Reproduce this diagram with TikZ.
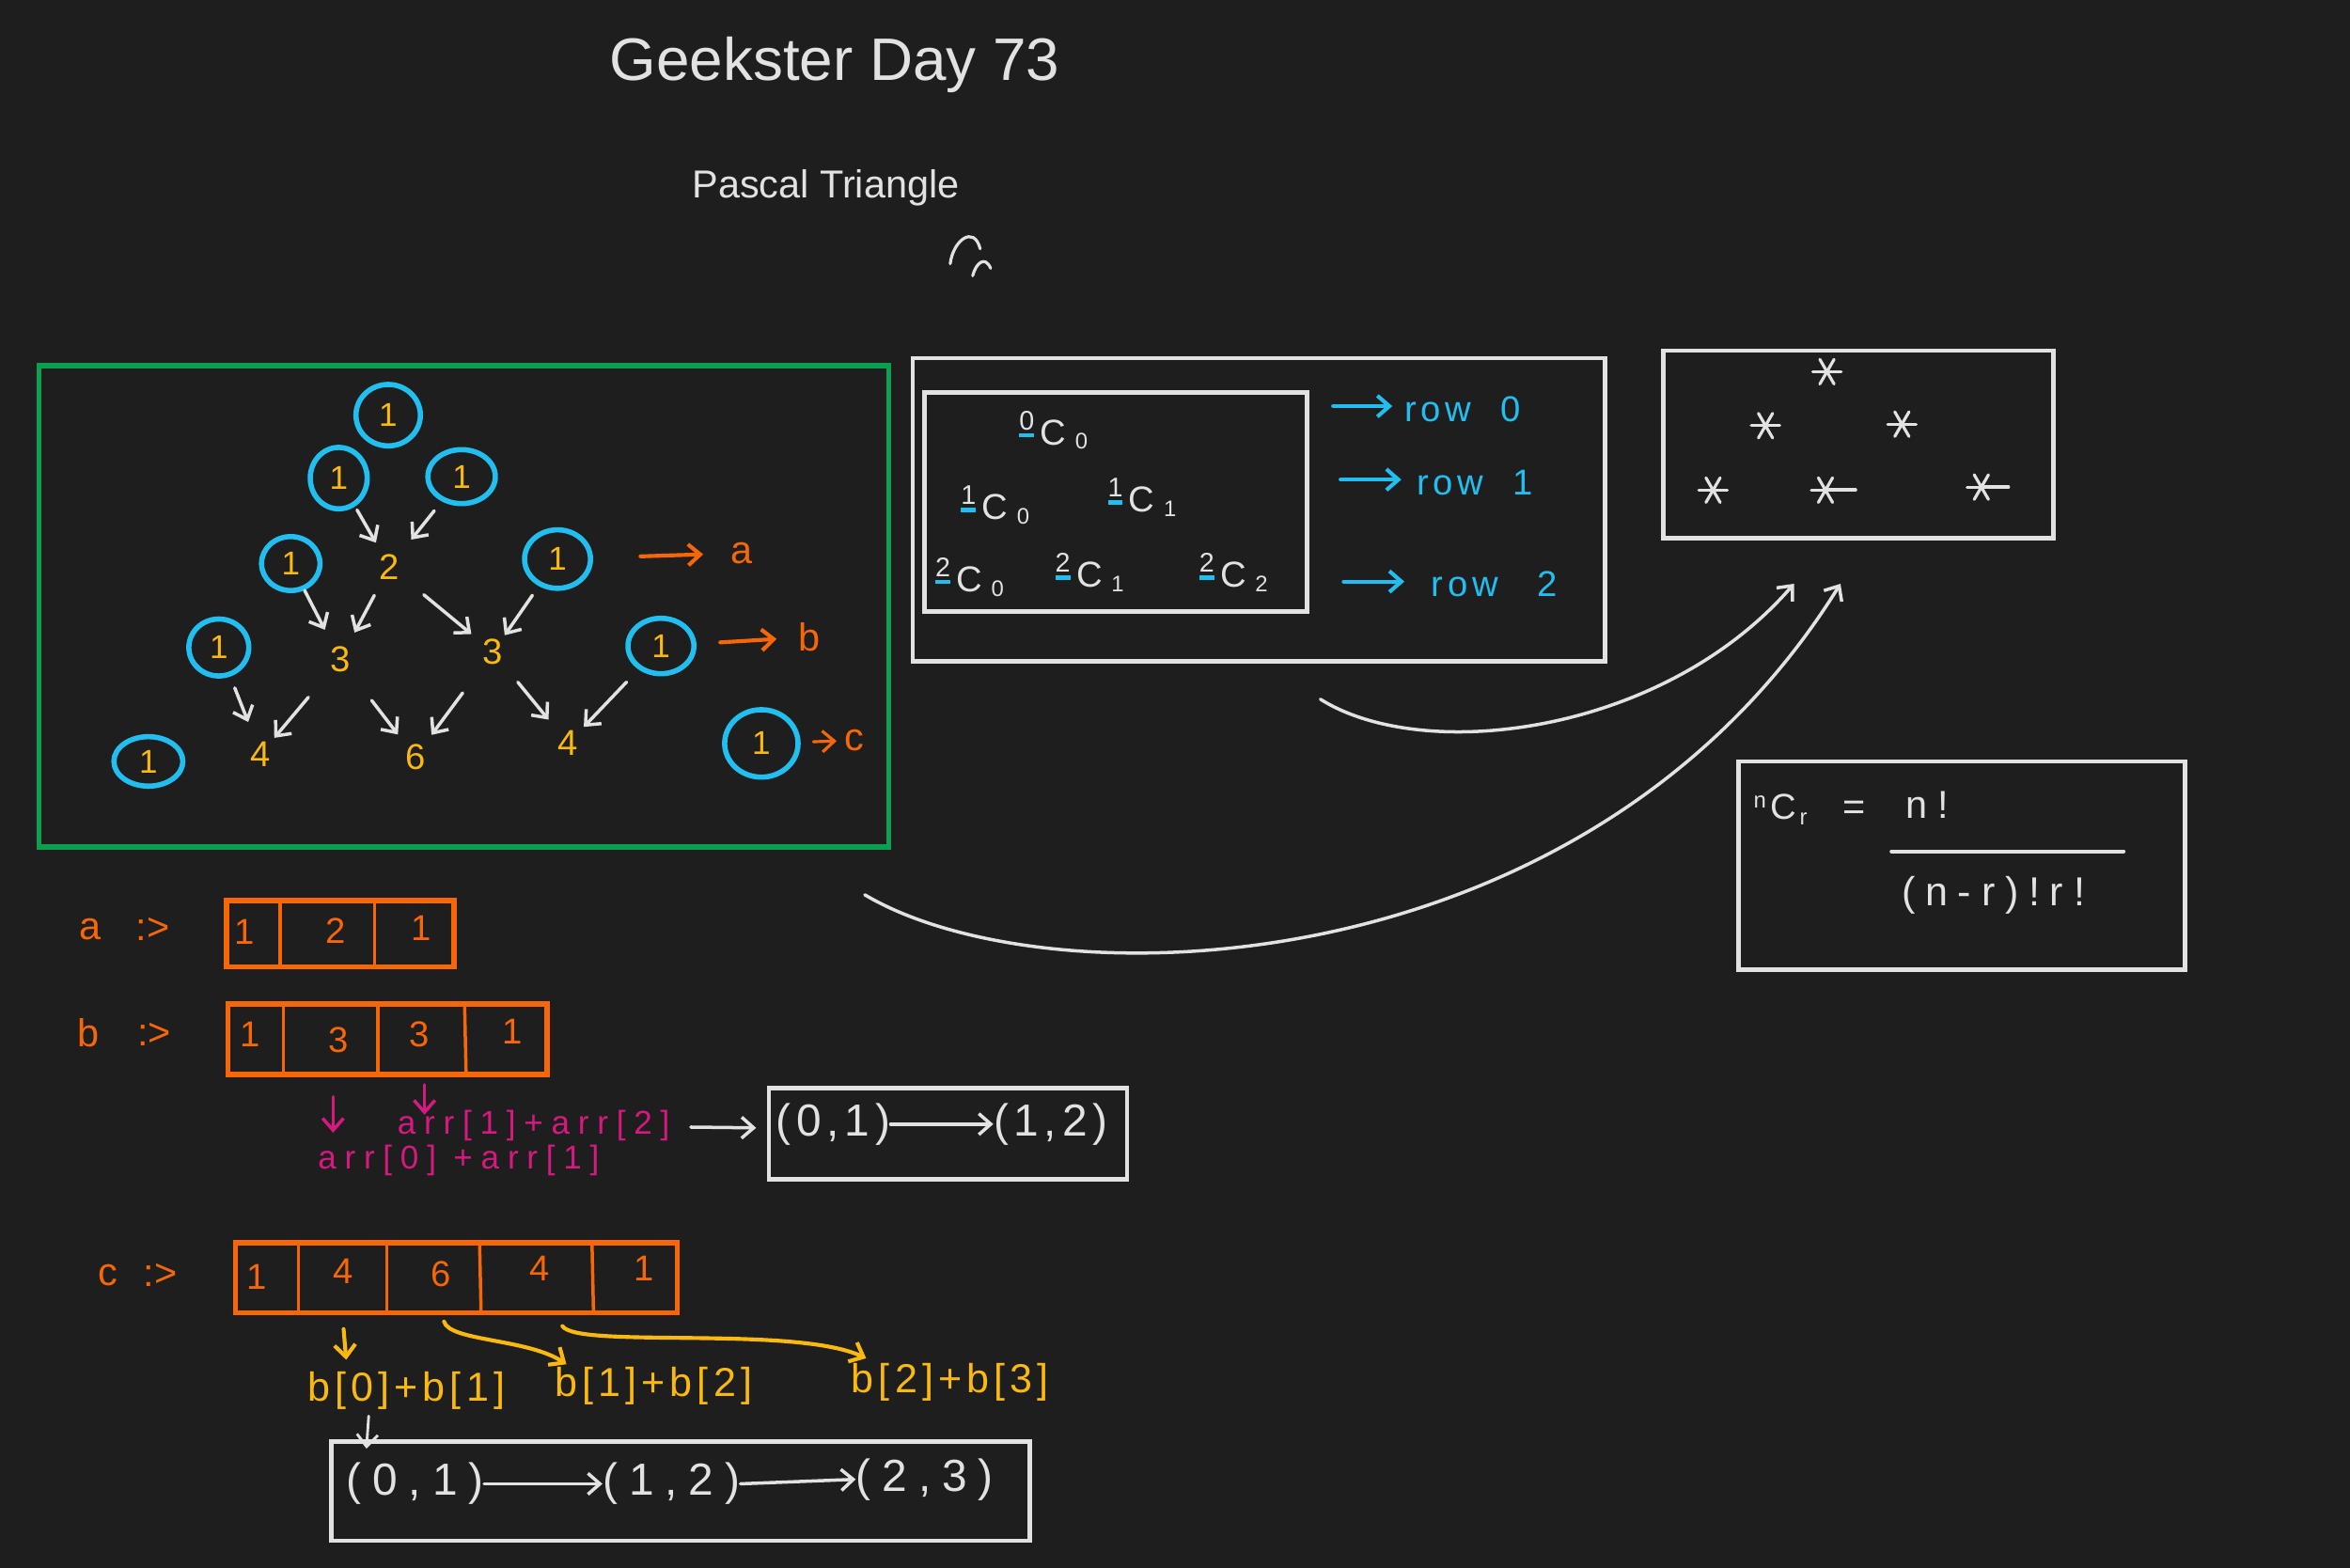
\documentclass[tikz,border=0pt]{standalone}
\usepackage{fontspec}
\setmainfont{Liberation Sans}
\newfontfamily\handfont[LetterSpace=12]{Liberation Sans}
\newfontfamily\widefont[LetterSpace=25]{Liberation Sans}
\usetikzlibrary{arrows.meta,shapes.geometric,calc}
\definecolor{bgc}{RGB}{30,30,30}
\definecolor{cwhite}{RGB}{226,226,226}
\definecolor{cblue}{RGB}{34,190,240}
\definecolor{cyel}{RGB}{250,185,15}
\definecolor{corange}{RGB}{247,103,7}
\definecolor{cgreen}{RGB}{10,160,80}
\definecolor{cpink}{RGB}{214,25,128}
\newcommand\fs[1]{\fontsize{#1}{#1}\selectfont}
\newcommand\comb[2]{\raisebox{10pt}{\fs{18}\rlap{\textcolor{cblue}{\rule[-5pt]{10pt}{2.8pt}}}#1}\hspace{4pt}C\hspace{6pt}\raisebox{-3pt}{\fs{15}#2}}
\newcommand\partarrow[5]{\draw[#1] ($(#2)!#4!(#3)$) -- ($(#2)!#5!(#3)$);}
\newcommand\astr[1]{\foreach \a in {0,60,120}{\draw[wline,line width=2pt] ($(#1)+(\a:9.5)$) -- ($(#1)+(\a+180:9.5)$);}}
\begin{document}
\begin{tikzpicture}[x=1pt,y=-1pt,
  wbox/.style 2 args={draw=cwhite,line width=3pt,minimum width=#1,minimum height=#2,inner sep=0pt},
  obox/.style 2 args={draw=corange,line width=3.5pt,minimum width=#1,minimum height=#2,inner sep=0pt},
  circ/.style 2 args={ellipse,draw=cblue,line width=3.5pt,minimum width=#1,minimum height=#2,inner sep=0pt,text=cyel,font=\fs{22}},
  num/.style={text=cyel,font=\fs{24},inner sep=0pt},
  onum/.style={text=corange,font=\fs{24},inner sep=0pt},
  wtext/.style={text=cwhite,inner sep=0pt},
  otext/.style={text=corange,font=\fs{26},inner sep=0pt},
  btext/.style={text=cblue,font=\handfont\fs{24},inner sep=0pt},
  ptext/.style={text=cpink,font=\widefont\fs{22},inner sep=0pt},
  ytext/.style={text=cyel,font=\handfont\fs{27},inner sep=0pt},
  tip/.style={-{Straight Barb[length=8pt,width=14pt]}},
  warr/.style={draw=cwhite,line width=2.2pt,line cap=round,tip},
  oarr/.style={draw=corange,line width=2.6pt,line cap=round,tip},
  barr/.style={draw=cblue,line width=2.6pt,line cap=round,tip},
  parr/.style={draw=cpink,line width=2.2pt,line cap=round,tip},
  yarr/.style={draw=cyel,line width=2.6pt,line cap=round,tip},
  wline/.style={draw=cwhite,line width=2.4pt,line cap=round},
  oline/.style={draw=corange,line width=2.2pt,line cap=round}]
\fill[bgc] (0,0) rectangle (1568,1046);
\useasboundingbox (0,0) rectangle (1568,1046);

% titles
\node[wtext,font=\fs{40}] (title) at (557,43) {Geekster Day 73};
\node[wtext,font=\fs{26}] (sub) at (551,125) {Pascal Triangle};
\draw[wline,line width=2pt] (634,176) .. controls (636,160) and (650,150) .. (654,166);
\draw[wline,line width=2pt] (649,184) .. controls (651,176) and (657,170) .. (661,179);

% green triangle box
\node[draw=cgreen,line width=3.5pt,minimum width=567,minimum height=321,inner sep=0pt] (tri) at (309.5,404.5) {};
\node[circ={43}{41}] (c1) at (259,277) {1};
\node[circ={38}{41}] (c2) at (226,319) {1};
\node[circ={45}{36}] (c3) at (308,318) {1};
\node[circ={39}{36}] (c4) at (194,376) {1};
\node[circ={44}{39}] (c5) at (372,373) {1};
\node[circ={40}{38}] (c6) at (146,432) {1};
\node[circ={44}{37}] (c7) at (441,431) {1};
\node[circ={46}{33}] (c8) at (99,508) {1};
\node[circ={49}{45}] (c9) at (508,496) {1};
\node[num] (n2) at (260,378) {2};
\node[num] (n3a) at (227,440) {3};
\node[num] (n3b) at (329,435) {3};
\node[num] (n4a) at (174,503) {4};
\node[num] (n6) at (277,505) {6};
\node[num] (n4b) at (379,496) {4};
\partarrow{warr}{c2}{n2}{0.36}{0.73}
\partarrow{warr}{c3}{n2}{0.38}{0.70}
\partarrow{warr}{c4}{n3a}{0.28}{0.69}
\partarrow{warr}{n2}{n3a}{0.31}{0.71}
\partarrow{warr}{n2}{n3b}{0.33}{0.79}
\partarrow{warr}{c5}{n3b}{0.39}{0.82}
\partarrow{warr}{c6}{n4a}{0.38}{0.70}
\partarrow{warr}{n3a}{n4a}{0.40}{0.83}
\partarrow{warr}{n3a}{n6}{0.42}{0.77}
\partarrow{warr}{n3b}{n6}{0.39}{0.79}
\partarrow{warr}{n3b}{n4b}{0.33}{0.74}
\partarrow{warr}{c7}{n4b}{0.37}{0.83}
\node[otext] (la) at (495,369) {a};
\node[otext] (lb) at (540,425) {b};
\node[otext] (lc) at (570,494) {c};
\partarrow{oarr}{c5}{la}{0.45}{0.79}
\partarrow{oarr}{c7}{lb}{0.40}{0.78}
\partarrow{oarr,line width=2pt}{c9}{lc}{0.56}{0.81}

% nCr box
\node[wbox={462}{202}] (outer) at (840,340) {};
\node[wbox={255}{146}] (inner) at (744.5,335) {};
\node[wtext,font=\fs{24}] (k00) at (703,287) {\comb{0}{0}};
\node[wtext,font=\fs{24}] (k10) at (664,337) {\comb{1}{0}};
\node[wtext,font=\fs{24}] (k11) at (762,332) {\comb{1}{1}};
\node[wtext,font=\fs{24}] (k20) at (647,385) {\comb{2}{0}};
\node[wtext,font=\fs{24}] (k21) at (727,382) {\comb{2}{1}};
\node[wtext,font=\fs{24}] (k22) at (823,382) {\comb{2}{2}};
\node[btext,anchor=west] (r0) at (937,273) {row\hspace{20pt}0};
\node[btext,anchor=west] (r1) at (945,322) {row\hspace{20pt}1};
\node[btext,anchor=west] (r2) at (955,390) {row\hspace{26pt}2};
\draw[barr] ($(inner.east|-r0)+(16,-2)$) -- ($(r0.west)+(-8,-2)$);
\draw[barr] ($(inner.east|-r1)+(21,-2)$) -- ($(r1.west)+(-10,-2)$);
\draw[barr] ($(inner.east|-r2)+(23,-2)$) -- ($(r2.west)+(-18,-2)$);

% stars box
\node[wbox={260}{125}] (stars) at (1240,296.5) {};
\coordinate (s1) at (1219,248);
\coordinate (s2) at (1178,284);
\coordinate (s3) at (1269,283);
\coordinate (s4) at (1143,327);
\coordinate (s5) at (1218,327);
\coordinate (s6) at (1322,325);
\astr{s1}\astr{s2}\astr{s3}\astr{s4}\astr{s5}\astr{s6}
\draw[wline] ($(s5)+(2,0)$) -- ++(18,0);
\draw[wline] ($(s6)+(2,0)$) -- ++(16,0);

% curved arrows to stars box
\draw[warr] ($(outer.south)+(41,24)$) .. controls (950,510) and (1110,490) .. ($(stars.south)+(-43,29)$);
\coordinate (cstart) at (577,597);
\draw[warr] (cstart) .. controls (700,670) and (1060,660) .. ($(stars.south)+(-12,29)$);

% formula box
\node[wbox={298}{139}] (form) at (1309,577.5) {};
\node[wtext,font=\fs{24}] (f1) at (1188,540) {\raisebox{7pt}{\fs{15}n}\hspace{3pt}C\hspace{2pt}\raisebox{-4pt}{\fs{15}r}};
\node[wtext,font=\fs{26}] (f2) at (1237,541) {=};
\node[wtext,font=\widefont\fs{26}] (f3) at (1286,537) {n!};
\node[wtext,font=\widefont\fs{27}] (f4) at (1330,597) {(n-r)!r!};
\draw[wline] (1262,568) -- (1417,568);

% array a
\node[otext] (ka) at (60,620) {a};
\node[otext] (ga) at (102,620) {:>};
\node[obox={152}{44}] (arrA) at (227,623) {};
\draw[oline] (187,601) -- (187,645);
\draw[oline] (250,601) -- (250,645);
\node[onum] (a1) at (163,622) {1};
\node[onum] (a2) at (224,621) {2};
\node[onum] (a3) at (281,619) {1};

% array b
\node[otext] (kb) at (59,689) {b};
\node[otext] (gb) at (103,690) {:>};
\node[obox={213}{47}] (arrB) at (258.5,693.5) {};
\draw[oline] (189,670) -- (189,717);
\draw[oline] (252,670) -- (252,717);
\draw[oline] (310,670) -- (311,717);
\node[onum] (b1) at (167,690) {1};
\node[onum] (b2) at (226,694) {3};
\node[onum] (b3) at (280,690) {3};
\node[onum] (b4) at (342,688) {1};
\node[ptext] (p1) at (356,751) {arr[1]+arr[2]};
\node[ptext] (p0) at (306,774) {arr[0] +arr[1]};
\draw[parr] ($(arrB.south west)+(72,13)$) -- ++(0,24);
\draw[parr] ($(arrB.south west)+(133,5)$) -- ++(0,20);
\node[wbox={239}{61}] (box5) at (632.5,756.5) {};
\draw[warr] ($(p1.east)+(14,1)$) -- ($(box5.west)+(-7,-4)$);
\node[wtext,font=\handfont\fs{30}] (t51) at (556,750) {(0,1)};
\node[wtext,font=\handfont\fs{30}] (t52) at (701,750) {(1,2)};
\draw[warr] (t51.east) -- (t52.west);

% array c
\node[otext] (kc) at (72,851) {c};
\node[otext] (gc) at (107,851) {:>};
\node[obox={295}{47}] (arrC) at (304.5,852.5) {};
\draw[oline] (199,829) -- (199,876);
\draw[oline] (258,829) -- (258,876);
\draw[oline] (320,829) -- (321,876);
\draw[oline] (395,829) -- (396,876);
\node[onum] (d1) at (171,852) {1};
\node[onum] (d2) at (229,848) {4};
\node[onum] (d3) at (294,850) {6};
\node[onum] (d4) at (360,846) {4};
\node[onum] (d5) at (430,846) {1};
\node[ytext] (y1) at (271,928) {b[0]+b[1]};
\node[ytext] (y2) at (436,925) {b[1]+b[2]};
\node[ytext] (y3) at (634,922) {b[2]+b[3]};
\draw[yarr] ($(arrC.south west)+(74,9)$) -- ($(y1.north)+(-40,-8)$);
\draw[yarr] ($(arrC.south west)+(141,4)$) .. controls (300,895) and (352,893) .. ($(y2.north west)+(8,-2)$);
\draw[yarr] ($(arrC.south west)+(220,7)$) .. controls (385,900) and (530,884) .. ($(y3.north west)+(10,-3)$);
\node[wbox={466}{66}] (box6) at (454,995) {};
\draw[warr,line width=1.8pt] ($(y1.south)+(-25,4)$) -- ($(box6.north west)+(25,6)$);
\node[wtext,font=\widefont\fs{30}] (t61) at (277,990) {(0,1)};
\node[wtext,font=\widefont\fs{30}] (t62) at (448,990) {(1,2)};
\node[wtext,font=\widefont\fs{30}] (t63) at (617,987) {(2,3)};
\draw[warr] (t61.east) -- (t62.west);
\draw[warr] (t62.east) -- (t63.west);
\end{tikzpicture}
\end{document}
